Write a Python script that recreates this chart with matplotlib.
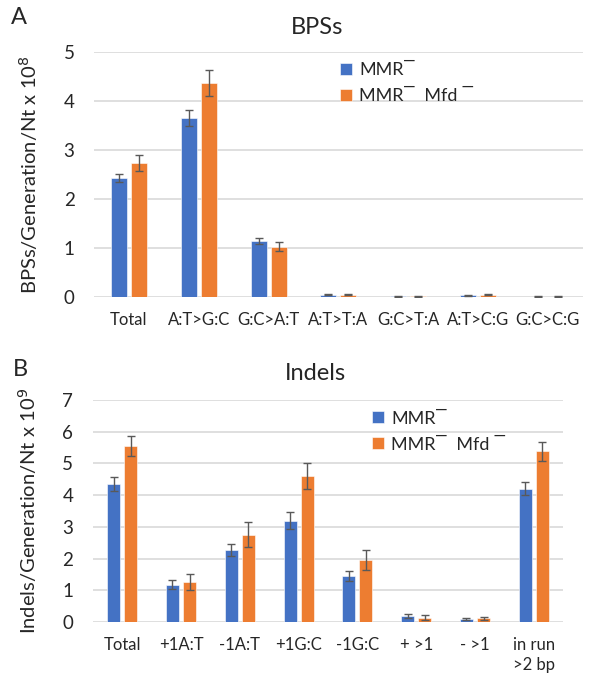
import numpy as np
import matplotlib
matplotlib.use('Agg')
import matplotlib.pyplot as plt

# panel A - base pair substitutions
bps_cats = ['Total', 'A:T>G:C', 'G:C>A:T', 'A:T>T:A', 'G:C>T:A', 'A:T>C:G', 'G:C>C:G']
bps_mmr = [2.43, 3.65, 1.14, 0.05, 0.02, 0.04, 0.01]
bps_mmr_err = [0.09, 0.17, 0.06, 0.01, 0.01, 0.01, 0.005]
bps_mfd = [2.74, 4.37, 1.03, 0.05, 0.02, 0.05, 0.01]
bps_mfd_err = [0.16, 0.26, 0.10, 0.015, 0.01, 0.015, 0.005]

# panel B - indels
ind_cats = ['Total', '+1A:T', '-1A:T', '+1G:C', '-1G:C', '+ >1', '- >1', 'in run\n>2 bp']
ind_mmr = [4.35, 1.18, 2.27, 3.20, 1.46, 0.19, 0.09, 4.20]
ind_mmr_err = [0.21, 0.14, 0.20, 0.27, 0.16, 0.05, 0.03, 0.21]
ind_mfd = [5.55, 1.26, 2.75, 4.60, 1.95, 0.14, 0.12, 5.38]
ind_mfd_err = [0.31, 0.24, 0.39, 0.42, 0.32, 0.07, 0.05, 0.30]

blue = '#4472C4'
orange = '#ED7D31'
grid = '#D9D9D9'
txt = '#262626'
lab1 = 'MMR\u203e'
lab2 = 'MMR\u203e  Mfd \u203e'

plt.rcParams['font.family'] = ['Lato', 'DejaVu Sans']

fig = plt.figure(figsize=(5.91, 6.79), dpi=100)


def panel(ax, cats, a, ae, b, be, ymax, width, off, ylabel):
    x = np.arange(len(cats))
    ax.bar(x - off, a, width, color=blue, edgecolor='white', linewidth=0.4,
           yerr=ae, error_kw=dict(ecolor='#595959', elinewidth=1, capsize=3, capthick=1),
           label=lab1, zorder=3)
    ax.bar(x + off, b, width, color=orange, edgecolor='white', linewidth=0.4,
           yerr=be, error_kw=dict(ecolor='#595959', elinewidth=1, capsize=3, capthick=1),
           label=lab2, zorder=3)
    ax.set_xlim(-0.5, len(cats) - 0.5)
    ax.set_ylim(0, ymax)
    ax.set_yticks(range(ymax + 1))
    ax.yaxis.grid(True, color=grid, linewidth=1.2, zorder=0)
    ax.set_axisbelow(True)
    for s in ax.spines.values():
        s.set_visible(False)
    ax.set_xticks(x)
    ax.set_xticklabels(cats, fontsize=12, color=txt, va='top', linespacing=1.25)
    ax.tick_params(axis='both', length=0)
    ax.tick_params(axis='x', pad=11)
    ax.tick_params(axis='y', labelsize=13.5, labelcolor=txt, pad=14)
    ax.set_ylabel(ylabel, fontsize=14.5, color=txt, labelpad=17)


axA = fig.add_axes([0.159, 0.5626, 0.827, 0.3608])
panel(axA, bps_cats, bps_mmr, bps_mmr_err, bps_mfd, bps_mfd_err, 5, 0.229, 0.143,
      'BPSs/Generation/Nt x 10$^{8}$')
axA.legend(loc='upper left', bbox_to_anchor=(0.47, 1.025), frameon=False, fontsize=13,
           handlelength=0.65, handleheight=0.65, handletextpad=0.4, labelspacing=0.55,
           labelcolor=txt)

axB = fig.add_axes([0.157, 0.0839, 0.796, 0.327])
panel(axB, ind_cats, ind_mmr, ind_mmr_err, ind_mfd, ind_mfd_err, 7, 0.221, 0.145,
      'Indels/Generation/Nt x 10$^{9}$')
axB.legend(loc='upper left', bbox_to_anchor=(0.56, 1.025), frameon=False, fontsize=13,
           handlelength=0.65, handleheight=0.65, handletextpad=0.4, labelspacing=0.55,
           labelcolor=txt)

fig.text(317 / 591, 1 - 27 / 679, 'BPSs', ha='center', va='center', fontsize=17, color=txt)
fig.text(315 / 591, 1 - 373 / 679, 'Indels', ha='center', va='center', fontsize=17, color=txt)
fig.text(19 / 591, 1 - 17 / 679, 'A', ha='center', va='center', fontsize=17, color=txt)
fig.text(20 / 591, 1 - 370 / 679, 'B', ha='center', va='center', fontsize=17, color=txt)

fig.savefig('out.png', dpi=100)
